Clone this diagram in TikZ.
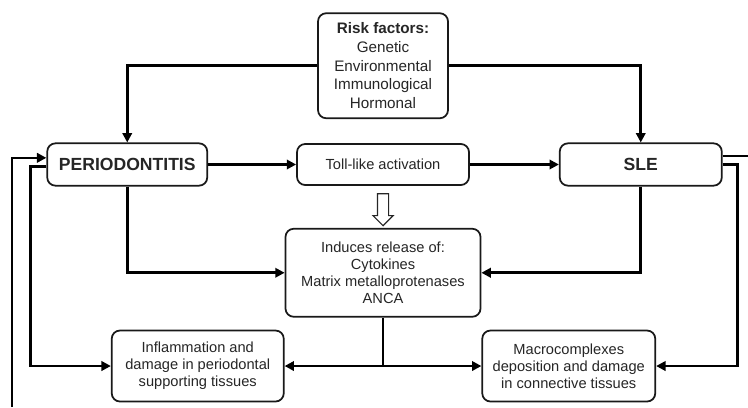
\documentclass[tikz,border=0pt]{standalone}
\usepackage{fontspec}
\setmainfont{Liberation Sans}
\usetikzlibrary{shapes.arrows, arrows.meta, positioning, calc}

\begin{document}
\begin{tikzpicture}[
    block/.style={rectangle, draw=black!90, fill=white, line width=1.5pt, rounded corners=7pt, align=center, text=black!85, font=\fontsize{12.5}{14.5}\selectfont},
    disease/.style={block, minimum height=1.27cm, font=\fontsize{15}{17}\selectfont\bfseries},
    factor/.style={block, minimum width=3.9cm, minimum height=3.15cm, font=\fontsize{13}{16}\selectfont},
    effect/.style={block, minimum height=2.13cm},
    arrow/.style={-{Triangle[length=8pt,width=8pt]}, line width=2.2pt, draw=black},
    link/.style={line width=2.2pt, draw=black},
    hollow/.style={single arrow, draw=black!85, fill=white, line width=1pt, shape border rotate=270, minimum height=0.96cm, minimum width=0.57cm, single arrow head extend=0.135cm, inner sep=0.15cm}
]
\useasboundingbox (0,0) rectangle (22.44,-12.21);

% Middle Row: Diseases and Toll-like activation
\node[block, minimum width=5.16cm, minimum height=1.23cm] (toll) at (11.49,-4.935) {Toll-like activation};
\node[disease, minimum width=4.8cm, left=2.64cm of toll] (perio) {PERIODONTITIS};
\node[disease, minimum width=4.86cm, right=2.67cm of toll] (sle) {SLE};

% Top: Risk factors
\node[factor, above=0.72cm of toll] (risk) {\textbf{Risk factors:}\\Genetic\\Environmental\\Immunological\\Hormonal};

% Release and damage
\node[block, minimum width=5.85cm, minimum height=2.64cm, below=1.26cm of toll] (induces) {Induces release of:\\Cytokines\\Matrix metalloprotenases\\ANCA};
\node[hollow] (release) at ($(toll.south)!0.5!(induces.north)$) {};
\node[effect, minimum width=5.16cm, below left=0.36cm and 0cm of induces.south west] (inflam) {Inflammation and\\damage in periodontal\\supporting tissues};
\node[effect, minimum width=5.19cm, below right=0.36cm and 0cm of induces.south east] (macro) {Macrocomplexes\\deposition and damage\\in connective tissues};

% Loose ends at the border
\coordinate (leftend) at (0.36,-12.21);
\coordinate (rightend) at (22.44,-4.675);
\coordinate (split) at (induces.south |- inflam.east);

% Connectors
\draw[arrow] (risk.west) -| (perio.north);
\draw[arrow] (risk.east) -| (sle.north);

\draw[arrow] (perio) -- (toll);
\draw[arrow] (toll) -- (sle);

\draw[arrow] (perio.south) |- (induces.west);
\draw[arrow] (sle.south) |- (induces.east);

\draw[link] (induces.south) -- (split);
\draw[arrow] (split) -- (inflam.east);
\draw[arrow] (split) -- (macro.west);

\draw[arrow] ([yshift=-0.06cm]perio.west) -- ++(-0.48,0) |- (inflam.west);
\draw[arrow] (leftend) |- ([yshift=0.2cm]perio.west);

\draw[arrow] (sle.east) -- ++(0.45,0) |- (macro.east);
\draw[link] ([yshift=0.26cm]sle.east) -- (rightend);

\end{tikzpicture}
\end{document}
